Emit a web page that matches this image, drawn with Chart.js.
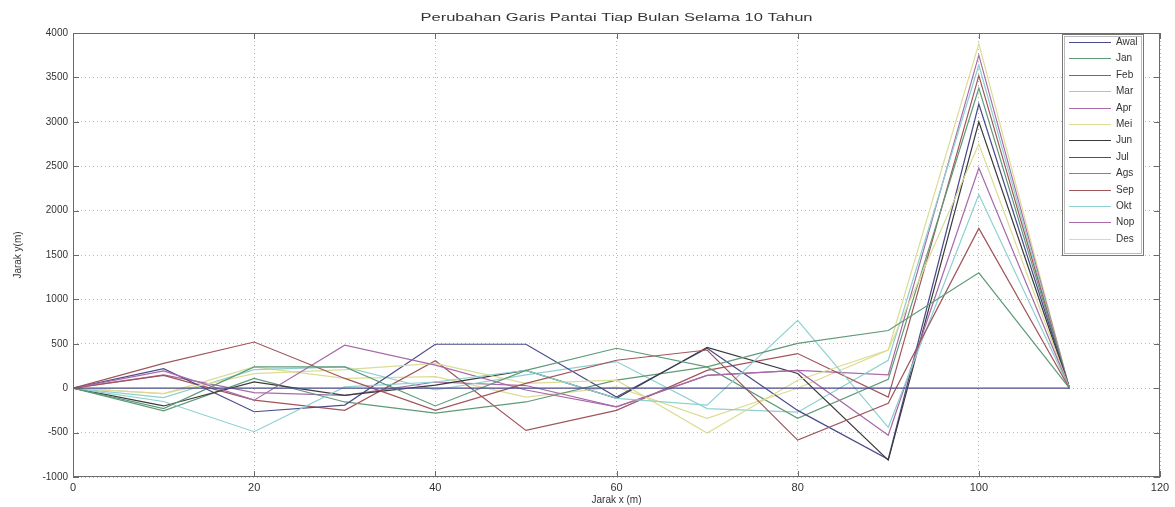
<!DOCTYPE html>
<html>
<head>
<meta charset="utf-8">
<script src="https://cdn.jsdelivr.net/npm/chart.js@4.4.1/dist/chart.umd.min.js"></script>
<style>
  html, body { margin: 0; padding: 0; background: #fff; }
  #wrap { width: 1175px; height: 507px; position: relative; }
</style>
</head>
<body>
<div id="wrap"><canvas id="garisPantai"></canvas></div>
<script>
// jarak x (m) titik pengamatan
const jarakX = [0, 10, 20, 30, 40, 50, 60, 70, 80, 90, 100, 110];

// nama seri (legend)
const namaSeri = ['Awal', 'Jan', 'Feb', 'Mar', 'Apr', 'Mei', 'Jun', 'Jul', 'Ags', 'Sep', 'Okt', 'Nop', 'Des'];

// jarak y (m) tiap bulan
const awal = [0, 0, 0, 0, 0, 0, 0, 0, 0, 0, 0, 0];
const jan  = [0, -230, 240, 240, -200, 200, 450, 240, 505, 650, 1300, 0];
const feb  = [0, 280, 520, 110, -250, 55, 315, 430, -585, -170, 1800, 0];
const mar  = [0, -150, -490, 15, 70, 200, -115, -190, 765, -440, 2180, 0];
const apr  = [0, 195, -135, 485, 260, -20, -210, 145, 200, -530, 2480, 0];
const mei  = [0, -60, 165, 210, 280, 55, 90, -505, 90, 430, 2750, 0];
const jun  = [0, -200, 70, -80, 35, 200, -115, 460, 165, -810, 3000, 0];
const jul  = [0, 220, -265, -190, 495, 495, -100, 450, -250, -800, 3200, 0];
const ags  = [0, -255, 110, -155, -280, -155, 90, 240, -340, 100, 3380, 0];
const sep  = [0, 145, -135, -250, 310, -475, -250, 200, 390, -100, 3520, 0];
const okt  = [0, -105, 210, 240, -20, 150, 300, -230, -270, 315, 3640, 0];
const nop  = [0, 150, -50, -80, 70, 30, -210, 145, 200, 150, 3750, 0];
const des  = [0, -60, 240, 110, 130, -100, 15, -340, 0, 430, 3880, 0];

const semuaSeri = [awal, jan, feb, mar, apr, mei, jun, jul, ags, sep, okt, nop, des];

// warna ala matlab (b g r c m y k), agak pudar seperti gambar
const warna = ['#4b4b8c', '#5f9a78', '#a0555a', '#8fd0d0', '#a86aa8', '#dcdc94', '#3a3a3a',
               '#4b4b8c', '#5f9a78', '#a0555a', '#8fd0d0', '#a86aa8', '#dcdc94'];

const tickY = [-1000, -500, 0, 500, 1000, 1500, 2000, 2500, 3000, 3500, 4000];
const tickX = [0, 20, 40, 60, 80, 100, 120];

const fontName = '"Liberation Sans", Arial, sans-serif';

// kotak, tick dalam, judul dan legend gaya matlab
const matlabStyle = {
  id: 'matlabStyle',
  afterDraw(chart) {
    const ctx = chart.ctx;
    const a = chart.chartArea;
    const sx = chart.scales.x, sy = chart.scales.y;
    ctx.save();

    // kotak plot
    ctx.strokeStyle = '#6a6a6a';
    ctx.lineWidth = 1;
    ctx.strokeRect(a.left + 0.5, a.top + 0.5, a.right - a.left - 1, a.bottom - a.top - 1);

    // tick di dalam kotak
    ctx.beginPath();
    tickX.forEach(v => {
      const px = Math.round(sx.getPixelForValue(v)) + 0.5;
      ctx.moveTo(px, a.bottom); ctx.lineTo(px, a.bottom - 6);
      ctx.moveTo(px, a.top); ctx.lineTo(px, a.top + 6);
    });
    tickY.forEach(v => {
      const py = Math.round(sy.getPixelForValue(v)) + 0.5;
      ctx.moveTo(a.left, py); ctx.lineTo(a.left + 6, py);
      ctx.moveTo(a.right, py); ctx.lineTo(a.right - 6, py);
    });
    ctx.stroke();

    // judul
    ctx.fillStyle = '#333';
    ctx.font = '11px ' + fontName;
    ctx.textAlign = 'center';
    ctx.textBaseline = 'middle';
    ctx.save();
    ctx.translate((a.left + a.right) / 2, 18);
    ctx.scale(1.5, 1);
    ctx.fillText('Perubahan Garis Pantai Tiap Bulan Selama 10 Tahun', 0, 0);
    ctx.restore();

    // legend
    const lx = 1062, ly = 34, lw = 81, lh = 221;
    ctx.fillStyle = '#fff';
    ctx.fillRect(lx, ly, lw, lh);
    ctx.strokeStyle = '#777';
    ctx.strokeRect(lx + 0.5, ly + 0.5, lw, lh);
    ctx.strokeStyle = '#bbb';
    ctx.strokeRect(lx + 2.5, ly + 2.5, lw - 4, lh - 4);
    ctx.font = '10px ' + fontName;
    ctx.textAlign = 'left';
    chart.data.datasets.forEach((ds, i) => {
      const y = Math.round(ly + 8 + i * 16.4) + 0.5;
      ctx.strokeStyle = ds.borderColor;
      ctx.lineWidth = 1.2;
      ctx.beginPath();
      ctx.moveTo(lx + 7, y); ctx.lineTo(lx + 49, y);
      ctx.stroke();
      ctx.fillStyle = '#333';
      ctx.fillText(ds.label, lx + 54, y);
    });

    ctx.restore();
  }
};

new Chart(document.getElementById('garisPantai'), {
  type: 'line',
  data: {
    datasets: semuaSeri.map((vals, i) => ({
      label: namaSeri[i],
      data: jarakX.map((x, j) => ({ x: x, y: vals[j] })),
      borderColor: warna[i],
      backgroundColor: warna[i],
      borderWidth: 1.2,
      pointRadius: 0,
      tension: 0,
      fill: false
    }))
  },
  options: {
    responsive: true,
    maintainAspectRatio: false,
    animation: false,
    events: [],
    layout: { padding: { top: 33, right: 15, left: 0, bottom: 0 } },
    plugins: {
      legend: { display: false },
      title: { display: false },
      tooltip: { enabled: false }
    },
    scales: {
      x: {
        type: 'linear',
        min: 0,
        max: 120,
        afterFit(scale) { scale.height = 30; },
        afterBuildTicks(scale) { scale.ticks = tickX.map(v => ({ value: v })); },
        ticks: { color: '#333', font: { family: fontName, size: 11 }, padding: 4, maxRotation: 0,
                 callback: v => String(v) },
        grid: { color: '#b8b8b8', drawTicks: false, lineWidth: 1 },
        border: { display: false, dash: [1, 3] },
        title: { display: true, text: 'Jarak x (m)', color: '#333', font: { family: fontName, size: 10 }, padding: { top: 0, bottom: 1 } }
      },
      y: {
        type: 'linear',
        min: -1000,
        max: 4000,
        afterFit(scale) { scale.width = 73; },
        afterBuildTicks(scale) { scale.ticks = tickY.map(v => ({ value: v })); },
        ticks: { color: '#333', font: { family: fontName, size: 10 }, padding: 5,
                 callback: v => String(v) },
        grid: { color: '#b8b8b8', drawTicks: false, lineWidth: 1 },
        border: { display: false, dash: [1, 3] },
        title: { display: true, text: 'Jarak y(m)', color: '#333', font: { family: fontName, size: 10 }, padding: { top: 12, bottom: 0 } }
      }
    }
  },
  plugins: [matlabStyle]
});
</script>
</body>
</html>
